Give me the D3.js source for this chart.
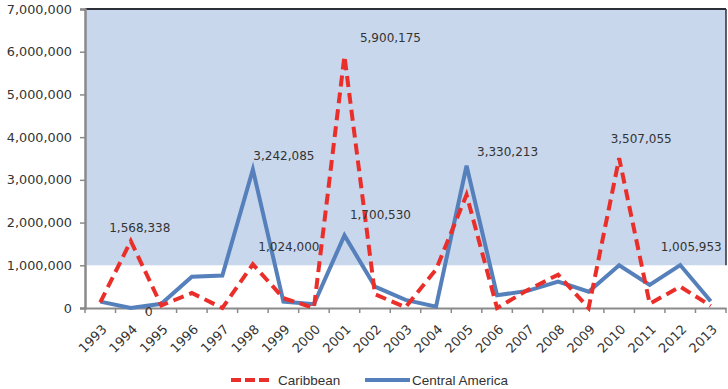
<!DOCTYPE html>
<html><head><meta charset="utf-8">
<script src="https://cdn.jsdelivr.net/npm/d3@7"></script>
<style>
html,body{margin:0;padding:0;background:#fff;}
svg{display:block;}
</style></head>
<body>
<svg id="chart" width="728" height="389"></svg>
<script>
const years = ["1993","1994","1995","1996","1997","1998","1999","2000","2001","2002","2003","2004","2005","2006","2007","2008","2009","2010","2011","2012","2013"];
const caribbean = [130000,1568338,60000,350000,0,1024000,230000,0,5900175,320000,20000,900000,2650000,0,420000,780000,0,3507055,100000,500000,50000];
const centralAmerica = [150000,0,100000,730000,760000,3242085,150000,90000,1700530,500000,190000,30000,3330213,300000,400000,620000,380000,1000000,540000,1005953,160000];
const yTicks = [0,1000000,2000000,3000000,4000000,5000000,6000000,7000000];
// data labels: [series, year index, text, dx, dy]
const labels = [
  ["caribbean",1,"1,568,338",9,-13],
  ["centralAmerica",1,"0",18,4],
  ["centralAmerica",5,"3,242,085",31,-14],
  ["caribbean",5,"1,024,000",36,-17],
  ["caribbean",8,"5,900,175",46,-18],
  ["centralAmerica",8,"1,700,530",36,-21],
  ["centralAmerica",12,"3,330,213",41,-14],
  ["caribbean",17,"3,507,055",22,-19],
  ["centralAmerica",19,"1,005,953",11,-18]
];

const svg = d3.select("#chart");
const m = {left:85, right:2, top:9, bottom:81};
const W = 728, H = 389;
const x = d3.scaleBand().domain(years).range([m.left, W - m.right]).padding(0);
const y = d3.scaleLinear().domain([0,7000000]).range([H - m.bottom, m.top]);
const cx = d => x(d) + x.bandwidth()/2;

// background bands
svg.append("rect").attr("x", m.left).attr("y", y(7000000))
  .attr("width", W - m.right - m.left).attr("height", y(1000000) - y(7000000))
  .attr("fill", "#c8d7ec");

// top and right border
svg.append("line").attr("x1", m.left).attr("x2", W - m.right).attr("y1", y(7000000)).attr("y2", y(7000000))
  .attr("stroke", "#2b2f38").attr("stroke-width", 2);
svg.append("line").attr("x1", W - m.right).attr("x2", W - m.right).attr("y1", y(7000000)).attr("y2", y(1000000))
  .attr("stroke", "#2b2f38").attr("stroke-width", 1.5);

// y axis
const yAxis = d3.axisLeft(y).tickValues(yTicks).tickSize(5).tickPadding(8).tickFormat(d3.format(","));
const gy = svg.append("g").attr("transform", `translate(${m.left},0)`).call(yAxis);
gy.select(".domain").attr("stroke", "#8a8a8a").attr("stroke-width", 2.5);
gy.selectAll(".tick line").attr("stroke", "#8a8a8a").attr("stroke-width", 1.5);
gy.selectAll("text").attr("font-family", "DejaVu Sans").attr("font-size", 12.8).attr("fill", "#333");

// x axis
const xAxis = d3.axisBottom(x).tickSize(0).tickPadding(0);
const gx = svg.append("g").attr("transform", `translate(0,${y(0)})`).call(xAxis);
gx.select(".domain").attr("stroke", "#8a8a8a").attr("stroke-width", 2);
gx.selectAll(".tick text").remove();
// boundary ticks
svg.append("g").selectAll("line").data(years.concat(["end"])).join("line")
  .attr("x1", (d,i) => m.left + i * x.bandwidth()).attr("x2", (d,i) => m.left + i * x.bandwidth())
  .attr("y1", y(0)).attr("y2", y(0) + 5).attr("stroke", "#8a8a8a").attr("stroke-width", 1.5);
svg.append("g").selectAll("text").data(years).join("text")
  .attr("transform", d => `translate(${cx(d) + 4},${y(0) + 19}) rotate(-45)`)
  .attr("text-anchor", "end").attr("dy", "0.35em")
  .attr("font-family", "DejaVu Sans").attr("font-size", 13).attr("fill", "#333")
  .text(d => d);

// lines
const line = vals => d3.line().x((d,i) => cx(years[i])).y(d => y(d))(vals);
svg.append("path").attr("d", line(centralAmerica)).attr("fill", "none")
  .attr("stroke", "#5580bb").attr("stroke-width", 4).attr("stroke-linejoin", "miter");
svg.append("path").attr("d", line(caribbean)).attr("fill", "none")
  .attr("stroke", "#ea2f2b").attr("stroke-width", 4).attr("stroke-dasharray", "11,6");

// data labels
const series = {caribbean, centralAmerica};
svg.append("g").selectAll("text").data(labels).join("text")
  .attr("x", d => cx(years[d[1]]) + d[3])
  .attr("y", d => y(series[d[0]][d[1]]) + d[4])
  .attr("text-anchor", "middle").attr("dy", "0.35em")
  .attr("font-family", "DejaVu Sans").attr("font-size", 12).attr("fill", "#333")
  .text(d => d[2]);

// legend
const lg = svg.append("g");
lg.append("line").attr("x1", 231).attr("x2", 270).attr("y1", 380).attr("y2", 380)
  .attr("stroke", "#ea2f2b").attr("stroke-width", 4).attr("stroke-dasharray", "10,4");
lg.append("text").attr("x", 278).attr("y", 380).attr("dy", "0.35em")
  .attr("font-family", "Liberation Sans").attr("font-size", 13.5).attr("fill", "#333").text("Caribbean");
lg.append("line").attr("x1", 365).attr("x2", 410).attr("y1", 380).attr("y2", 380)
  .attr("stroke", "#5580bb").attr("stroke-width", 4);
lg.append("text").attr("x", 412).attr("y", 380).attr("dy", "0.35em")
  .attr("font-family", "Liberation Sans").attr("font-size", 13.5).attr("fill", "#333").text("Central America");
</script>
</body></html>
